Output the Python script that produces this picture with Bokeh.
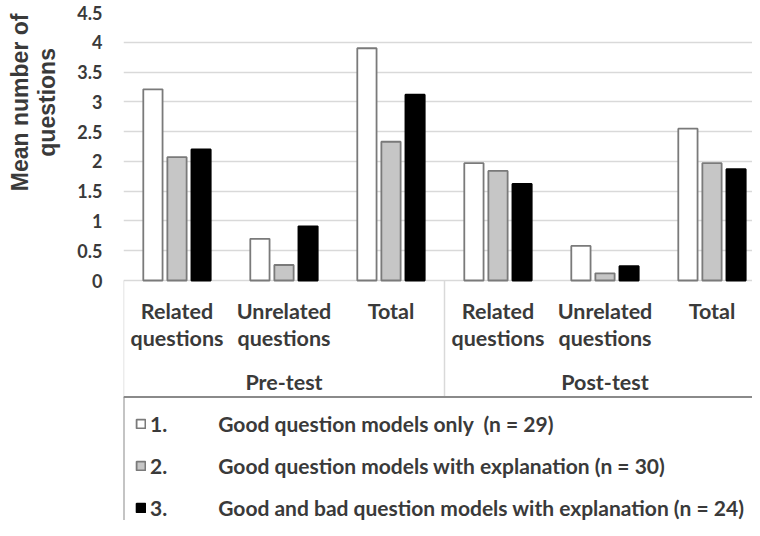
import math
from bokeh.plotting import figure
from bokeh.layouts import row
from bokeh.models import (Range1d, FixedTicker, NumeralTickFormatter,
                          Legend, LegendItem, ColumnDataSource)
from bokeh.transform import dodge
from bokeh.core.properties import value
from bokeh.embed import file_html
from bokeh.resources import INLINE

# ---------------- data ----------------
phases = ["Pre-test", "Post-test"]
measures = ["Related questions", "Unrelated questions", "Total"]
measure_labels = ["Related\nquestions", "Unrelated\nquestions", "Total"]
series_labels = ["1.", "2.", "3."]
series_names = ["Good question models only  (n = 29)",
                "Good question models with explanation (n = 30)",
                "Good and bad question models with explanation (n = 24)"]
good_only = [3.21, 0.70, 3.90, 1.97, 0.58, 2.55]
good_expl = [2.07, 0.26, 2.33, 1.84, 0.12, 1.97]
good_bad_expl = [2.20, 0.91, 3.12, 1.62, 0.24, 1.87]
y_ticks = [0, 0.5, 1, 1.5, 2, 2.5, 3, 3.5, 4, 4.5]
y_title = "Mean number of\nquestions"

# ---------------- layout ----------------
TW = 62                     # width of the y-title strip
W, H = 752 - TW, 520
LEFT, TOP = 123 - TW, 12
CAT_W = 107                 # pixels per category
FRAME_W = W - LEFT
FRAME_H = H - TOP
PPU = 268 / 4.5             # pixels per unit on the value axis
YMAX = 4.5
YMIN = YMAX - FRAME_H / PPU

def ydata(ref_y):
    return YMAX - (ref_y - TOP) / PPU

FONT = value("Lato")
TXT = "#3a3a3a"

cats = [f"{ph} / {m}" for ph in phases for m in measures]
n = len(cats)
per = len(measures)
xc = [i + 0.5 for i in range(n)]

p = figure(width=W, height=H, x_range=Range1d(0, FRAME_W / CAT_W), y_range=Range1d(YMIN, YMAX),
           output_backend="svg", toolbar_location=None, x_axis_location=None,
           min_border_left=LEFT, min_border_right=0, min_border_top=TOP, min_border_bottom=0)
p.outline_line_color = None
p.background_fill_color = "white"
p.border_fill_color = "white"
p.xgrid.visible = False
p.ygrid.grid_line_color = "#d9d9d9"
p.ygrid.grid_line_width = 1.5

ax = p.yaxis[0]
ax.ticker = FixedTicker(ticks=y_ticks)
ax.formatter = NumeralTickFormatter(format="0.[0]")
ax.axis_line_color = None
ax.major_tick_line_color = None
ax.minor_tick_line_color = None
ax.major_tick_out = 0
ax.major_label_standoff = 21
ax.major_label_text_font = "Lato"
ax.major_label_text_font_style = "bold"
ax.major_label_text_font_size = "18px"
ax.major_label_text_color = TXT

src = ColumnDataSource(dict(x=xc, cat=cats, a=good_only, b=good_expl, c=good_bad_expl))
bw = 0.18
r1 = p.vbar(x=dodge("x", -0.225), top="a", bottom=0, width=bw, source=src,
            fill_color="white", line_color="#7a7a7a", line_width=1.8)
r2 = p.vbar(x=dodge("x", 0.0), top="b", bottom=0, width=bw, source=src,
            fill_color="#c6c6c6", line_color="#7a7a7a", line_width=1.8)
r3 = p.vbar(x=dodge("x", 0.225), top="c", bottom=0, width=bw, source=src,
            fill_color="black", line_color="black", line_width=1.8)

# table-like category area
bounds = [i * per for i in range(len(phases) + 1)]
leg_top = ydata(396.5)
p.segment(x0=bounds, y0=[0] * len(bounds), x1=bounds, y1=[leg_top] * len(bounds),
          line_color="#d9d9d9", line_width=1.5)

p.text(x=xc, y=[ydata(297)] * n, text=measure_labels * len(phases),
       text_align="center", text_baseline="top", text_font=FONT, text_font_style="bold",
       text_font_size="21.5px", text_color=TXT, text_line_height=1.07)
gx = [(b0 + b1) / 2 for b0, b1 in zip(bounds[:-1], bounds[1:])]
p.text(x=gx, y=[ydata(368)] * len(phases), text=phases,
       text_align="center", text_baseline="top", text_font=FONT, text_font_style="bold",
       text_font_size="21.5px", text_color=TXT)

# legend box (cut off at right/bottom as in the original)
p.segment(x0=[0, 0], y0=[leg_top, leg_top], x1=[n + 1, 0], y1=[leg_top, YMIN - 1],
          line_color="#8a8a8a", line_width=2)

nb = "\u00a0"
items = [LegendItem(label=f"{s}{nb * 10}{name}", renderers=[r])
         for s, name, r in zip(series_labels, series_names, [r1, r2, r3])]
legend = Legend(items=items, location=(12, 0), orientation="vertical",
                border_line_color=None, background_fill_alpha=0, padding=0, margin=0,
                spacing=17, glyph_width=11, glyph_height=11, label_standoff=4,
                label_text_font="Lato", label_text_font_style="bold",
                label_text_font_size="21px", label_text_color=TXT)
p.add_layout(legend)

# y-axis title strip
t = figure(width=TW, height=H, x_range=Range1d(0, TW), y_range=Range1d(0, H),
           output_backend="svg", toolbar_location=None, x_axis_location=None,
           y_axis_location=None, min_border=0)
t.outline_line_color = None
t.grid.visible = False
t.text(x=[33], y=[H - 92], text=[y_title], angle=math.pi / 2,
       text_align="center", text_baseline="middle",
       text_font=value("Liberation Sans"), text_font_style="bold",
       text_font_size="23px", text_color=TXT, text_line_height=1.05)

layout = row(t, p, spacing=0)
open("out.html", "w").write(file_html(layout, INLINE))
